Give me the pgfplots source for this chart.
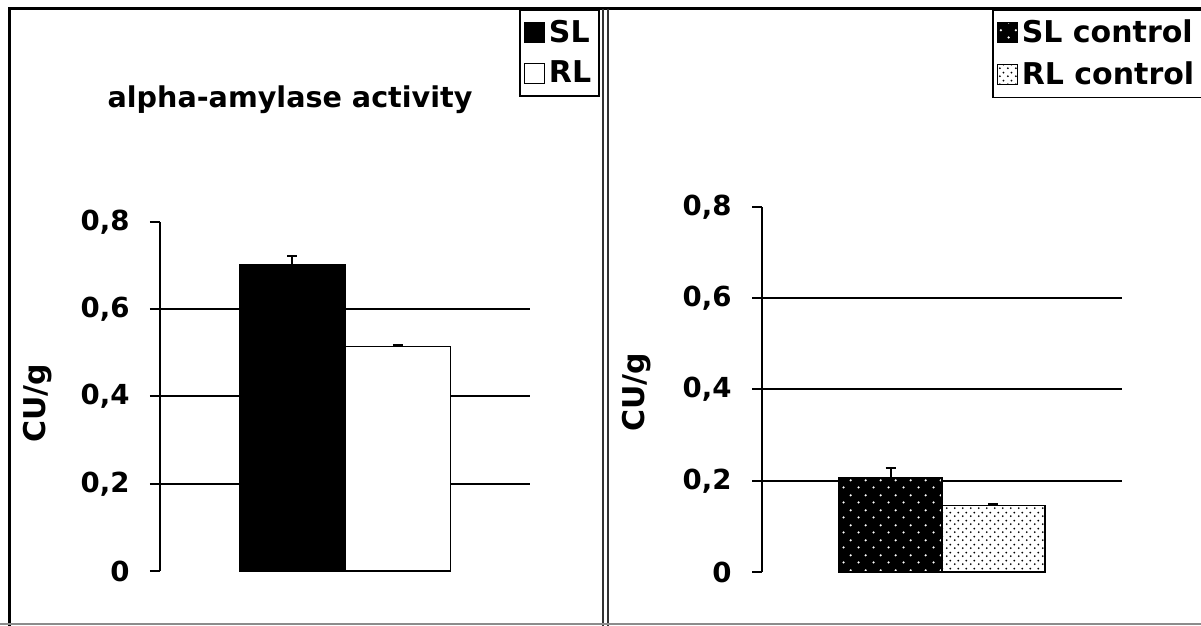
\documentclass[border=0pt]{standalone}
\usepackage{pgfplots}
\pgfplotsset{compat=1.18}
\usetikzlibrary{patterns.meta}
\usepackage{fontspec}
\setmainfont{DejaVu Sans}

\tikzdeclarepattern{
  name=sparsedots, type=uncolored,
  bottom left={(0pt,0pt)}, top right={(7.5pt,7.5pt)}, tile size={(7.5pt,7.5pt)},
  code={\fill (1.875pt,1.875pt) circle (0.65pt); \fill (5.625pt,5.625pt) circle (0.65pt);}
}
\tikzdeclarepattern{
  name=densedots, type=uncolored,
  bottom left={(0pt,0pt)}, top right={(3.75pt,3.75pt)}, tile size={(3.75pt,3.75pt)},
  code={\fill (0.94pt,0.94pt) circle (0.52pt); \fill (2.81pt,2.81pt) circle (0.52pt);}
}

\pgfplotsset{
  panel/.style={
    scale only axis,
    ybar=0pt, bar width=1,
    xmin=-1.75, xmax=1.75, ymin=0, ymax=0.8,
    axis y line*=left, axis x line=none,
    y axis line style={-, line width=1pt},
    ytick={0,0.2,0.4,0.6,0.8},
    tick align=outside, major tick length=5pt,
    tick style={line width=1pt, black},
    extra y ticks={0.2,0.4,0.6}, extra y tick labels={},
    extra y tick style={grid=major, major tick length=0pt},
    major grid style={line width=1pt, black},
    /pgf/number format/use comma,
    /pgf/number format/assume math mode=true,
    yticklabel style={font=\bfseries\fontsize{13.8}{16}\selectfont, inner sep=0pt, xshift=-10pt},
    ylabel={CU/g},
    ylabel style={font=\bfseries\fontsize{15}{18}\selectfont, rotate=0},
    clip=false,
    legend cell align=left,
    legend style={draw=black, line width=0.75pt, font=\bfseries\fontsize{15}{18}\selectfont,
      inner xsep=2pt, inner ysep=3pt, row sep=4pt,
      /tikz/every even column/.append style={column sep=2pt}},
  },
  sq/.style={legend image code/.code={\draw[##1, line width=0.5pt] (0pt,-5pt) rectangle (10pt,5pt);}},
  eb/.style={error bars/.cd, y dir=plus, y explicit, error mark=|,
    error bar style={line width=1pt, black},
    error mark options={line width=1pt, black, mark size=2.5pt}},
}

\begin{document}
\begin{tikzpicture}
\useasboundingbox (0,0) rectangle (600.5pt,313pt);
% panel frames
\draw[line width=1.5pt] (4.5pt,0pt) -- (4.5pt,308.5pt) -- (600.5pt,308.5pt);
\draw[line width=0.75pt, black!80] (301.5pt,0pt) -- (301.5pt,308.5pt);
\draw[line width=0.75pt, black!80] (304pt,0pt) -- (304pt,308.5pt);
\draw[line width=1pt, black!45] (0pt,1pt) -- (600.5pt,1pt);

\begin{axis}[panel,
  at={(80pt,27.5pt)}, anchor=south west,
  width=185pt, height=174.5pt,
  ylabel style={at={(axis description cs:-0.33,0.481)}, anchor=center},
  legend style={at={(axis description cs:1.189,1.610)}, anchor=north east},
]
\addplot[fill=black, draw=black, line width=0.75pt, sq, eb]
  coordinates {(0,0.703) +- (0,0.020)};
\addplot[fill=white, draw=black, line width=0.75pt, sq, eb]
  coordinates {(0,0.515) +- (0,0.003)};
\legend{SL,RL}
\end{axis}
\node[font=\bfseries\fontsize{14.3}{17}\selectfont] at (145pt,263pt) {alpha-amylase activity};

\begin{axis}[panel,
  at={(381pt,27pt)}, anchor=south west,
  width=180pt, height=182.5pt,
  ylabel style={at={(axis description cs:-0.347,0.493)}, anchor=center},
  legend style={at={(axis description cs:0.639,1.542)}, anchor=north west},
]
\addplot[fill=black, draw=black, line width=0.75pt,
  postaction={pattern=sparsedots, pattern color=white}, sq, eb]
  coordinates {(0,0.206) +- (0,0.022)};
\addplot[fill=white, draw=black, line width=0.75pt,
  postaction={pattern=densedots, pattern color=black}, sq, eb]
  coordinates {(0,0.146) +- (0,0.004)};
\legend{SL control,RL control}
\end{axis}
\end{tikzpicture}
\end{document}
